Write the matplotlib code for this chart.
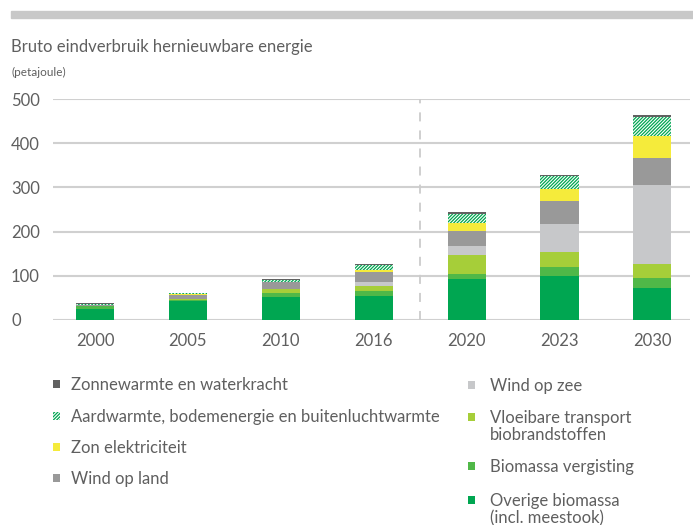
import numpy as np
import matplotlib.pyplot as plt
from matplotlib.patches import Rectangle

plt.rcParams['font.family'] = ['Lato', 'DejaVu Sans']
plt.rcParams['hatch.linewidth'] = 0.9

# values (petajoule)
years = ['2000', '2005', '2010', '2016', '2020', '2023', '2030']
overige = [25, 44, 53, 55, 92, 99, 73]
vergisting = [6, 2, 9, 11, 13, 21, 21]
vloeibaar = [0, 1.5, 8, 11, 41, 33, 32]
wind_zee = [0, 0, 0, 9, 21, 64, 179]
wind_land = [2, 9.5, 16, 22, 34, 52, 61]
zon = [0.5, 1, 0.5, 4, 18, 27, 51]
aardwarmte = [3, 2.5, 3.5, 12, 21, 30, 43]
zonnewarmte = [1.5, 1.5, 2, 3, 4, 3, 3]

labels = ['Overige biomassa\n(incl. meestook)', 'Biomassa vergisting',
          'Vloeibare transport\nbiobrandstoffen', 'Wind op zee', 'Wind op land',
          'Zon elektriciteit', 'Aardwarmte, bodemenergie en buitenluchtwarmte',
          'Zonnewarmte en waterkracht']
series = [overige, vergisting, vloeibaar, wind_zee, wind_land, zon, aardwarmte, zonnewarmte]
colors = ['#00a651', '#50b848', '#a6ce39', '#c7c8ca', '#999999', '#f5eb3b', 'white', '#616161']

txt = '#5f5f5f'
W, H = 693, 525
fig = plt.figure(figsize=(W / 100, H / 100), dpi=100)
ax = fig.add_axes([53 / W, 1 - 320 / H, (690 - 53) / W, 221 / H])

x = np.arange(len(years))
bottom = np.zeros(len(years))
for vals, col in zip(series, colors):
    if col == 'white':
        ax.bar(x, vals, 0.41, bottom=bottom, color='white', edgecolor='#00a651',
               hatch='//////////', linewidth=0, zorder=3)
    else:
        ax.bar(x, vals, 0.41, bottom=bottom, color=col, linewidth=0, zorder=3)
    bottom += np.array(vals)

ax.set_xlim(-0.452, 6.405)
ax.set_ylim(0, 500)
ax.set_yticks([0, 100, 200, 300, 400, 500])
ax.set_xticks(x)
ax.set_xticklabels(years)
ax.grid(axis='y', color='#d0d0d0', linewidth=1.5, zorder=0)
ax.set_axisbelow(True)
for s in ax.spines.values():
    s.set_visible(False)
ax.tick_params(length=0, labelsize=12, colors=txt)
ax.tick_params(axis='y', pad=42 * 0.72)
ax.tick_params(axis='x', pad=9)
for t in ax.get_yticklabels():
    t.set_ha('left')
ax.axvline(3.5, color='#cccccc', linewidth=1.3, linestyle=(0, (5, 5)), zorder=1)

# header
fig.patches.append(Rectangle((11 / W, 1 - 18 / H), (W - 11) / W, 7 / H,
                             transform=fig.transFigure, color='#c8c8c8'))
fig.text(11 / W, 1 - 47 / H, 'Bruto eindverbruik hernieuwbare energie',
         fontsize=12, color=txt, va='center')
fig.text(11 / W, 1 - 72 / H, '(petajoule)', fontsize=8.5, color=txt, va='center')

# legend, two columns
left_col = [(7, 384), (6, 416), (5, 447), (4, 478)]
right_col = [(3, 385), (2, 417), (1, 466), (0, 500)]
for items, mx, tx in [(left_col, 53, 71), (right_col, 468, 490)]:
    for i, y in items:
        if colors[i] == 'white':
            r = Rectangle((mx / W, 1 - (y + 4) / H), 7 / W, 8 / H, transform=fig.transFigure,
                          facecolor='white', edgecolor='#00a651', hatch='//////////', linewidth=0)
        else:
            r = Rectangle((mx / W, 1 - (y + 4) / H), 7 / W, 8 / H, transform=fig.transFigure,
                          facecolor=colors[i], linewidth=0)
        fig.patches.append(r)
        fig.text(tx / W, 1 - (y - 7) / H, labels[i], fontsize=12, color=txt,
                 va='top', linespacing=1.1)

fig.savefig('out.png', dpi=100)
